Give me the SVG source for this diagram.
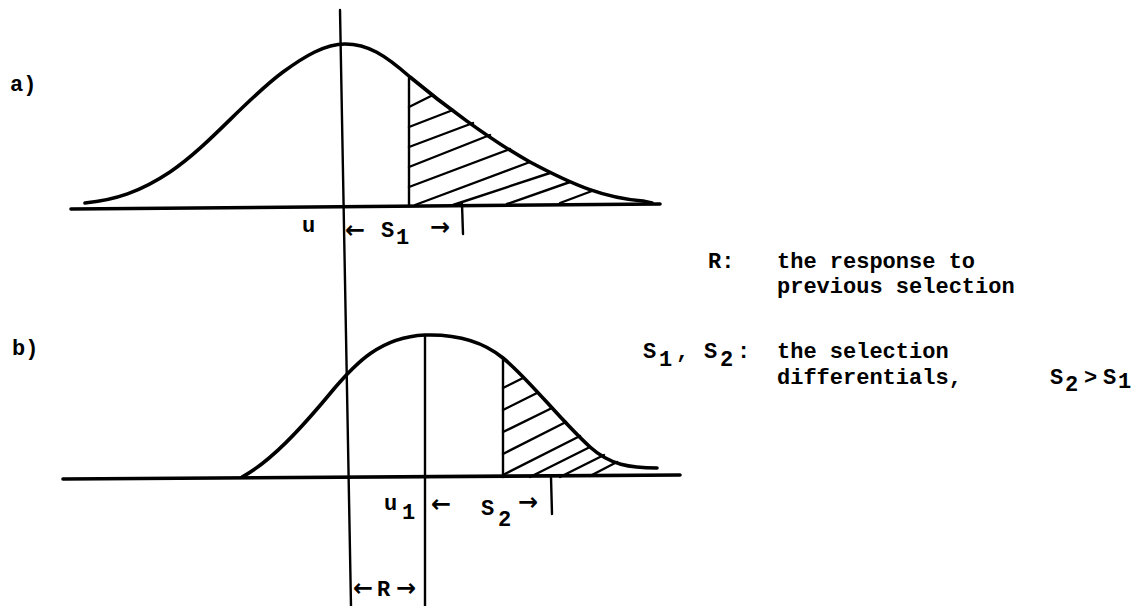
<svg xmlns="http://www.w3.org/2000/svg" width="1145" height="606" viewBox="0 0 1145 606">
<style>
.ln{stroke:#000;fill:none;stroke-linecap:round;stroke-linejoin:round}
.cv{stroke-width:3.6}
.ax{stroke-width:3.6}
.vl{stroke-width:2.4}
.ht{stroke-width:2.4}
.t{font-family:"Liberation Mono","DejaVu Sans Mono",monospace;font-weight:bold;fill:#000}
.ar{font-family:"DejaVu Sans","Liberation Sans",sans-serif;font-weight:bold;fill:#000;font-size:24px}
.m{font-size:22px}
.lb{font-size:22px}
</style>
<rect width="1145" height="606" fill="#fff"/>
<g id="axis-line">
<path class="ln vl" d="M340 10 L351 606"/>
</g>
<g id="panel-a">
<path class="ln ax" d="M71 209 L660 204"/>
<path class="ln cv" d="M85 203 C115 200 140 192 170 172 C210 145 245 100 283 72 C305 56 325 44 345 44 C368 44 385 55 410 77 C440 102 490 140 530 162 C575 186 605 198 643 201 L652 203"/>
<path class="ln vl" d="M409 78 L409 206"/>
<path class="ln ht" d="M409 107 L433 95 M409 127 L453 110 M409 147 L473 123 M409 167 L490 135 M409 187 L510 149 M415 205 L530 162 M453 205 L550 173 M507 204 L570 182 M560 203 L592 191"/>
<path class="ln vl" d="M462 204 L463 234"/>
<text class="t lb" x="10" y="91">a)</text>
<text class="t m" x="302" y="232">u</text>
<text class="ar" x="345" y="238">←</text>
<text class="t m" x="381" y="237">S</text>
<text class="t m" x="396" y="244">1</text>
<text class="ar" x="430" y="235">→</text>
</g>
<g id="panel-b">
<path class="ln ax" d="M63 479 L680 475"/>
<path class="ln cv" d="M242 477 C270 462 300 430 333 390 C355 364 380 337 425 335 C460 334 485 343 503 358 C530 380 560 420 590 447 C610 465 630 468 657 468"/>
<path class="ln vl" d="M425 336 L425 606"/>
<path class="ln vl" d="M503 358 L503 477"/>
<path class="ln ht" d="M503 388 L523 378 M503 410 L537 393 M503 432 L552 408 M503 454 L566 422 M503 475 L580 436 M530 477 L590 447 M560 477 L604 455 M590 476 L617 462"/>
<path class="ln vl" d="M551 477 L552 514"/>
<text class="t lb" x="12" y="355">b)</text>
<text class="t m" x="384" y="510">u</text>
<text class="t m" x="402" y="519">1</text>
<text class="ar" x="431" y="512">←</text>
<text class="t m" x="481" y="515">S</text>
<text class="t m" x="498" y="526">2</text>
<text class="ar" x="518" y="510">→</text>
<text class="ar" x="353" y="596">←</text>
<text class="t m" x="377" y="596">R</text>
<text class="ar" x="396" y="596">→</text>
</g>
<g id="legend">
<text class="t m" x="708" y="268">R:</text>
<text class="t m" x="777" y="268">the response to</text>
<text class="t m" x="777" y="293">previous selection</text>
<text class="t m" x="643" y="358">S</text>
<text class="t m" x="659" y="366">1</text>
<text class="t m" x="676" y="358">,</text>
<text class="t m" x="704" y="358">S</text>
<text class="t m" x="720" y="366">2</text>
<text class="t m" x="737" y="358">:</text>
<text class="t m" x="777" y="358">the selection</text>
<text class="t m" x="777" y="384">differentials,</text>
<text class="t m" x="1050" y="384">S</text>
<text class="t m" x="1065" y="391">2</text>
<text class="t m" x="1084" y="384">&gt;</text>
<text class="t m" x="1103" y="384">S</text>
<text class="t m" x="1118" y="388">1</text>
</g>
</svg>
